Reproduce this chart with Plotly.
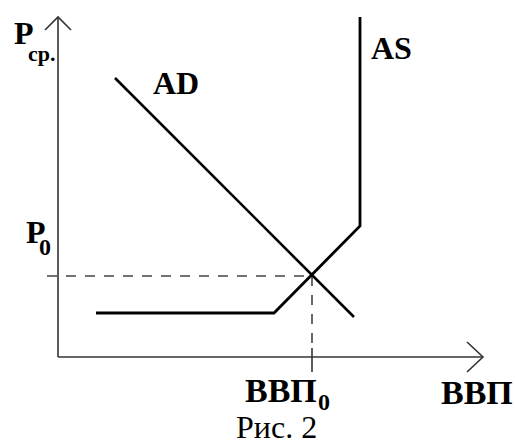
import plotly.graph_objects as go

# Economic model data (units: relative to the axis origin, P upward, GDP rightward)
ad_q = [57, 296]
ad_p = [279, 40]
as_q = [38, 216, 302, 302]
as_p = [44, 44, 131, 340]
eq_q = 254
eq_p = 81

axis_len_q = 425
axis_len_p = 340

fig = go.Figure()

AX = dict(color="#333333", width=1.6)

# axes
fig.add_trace(go.Scatter(x=[0, 0], y=[0, axis_len_p], mode="lines", line=AX, hoverinfo="skip"))
fig.add_trace(go.Scatter(x=[0, axis_len_q], y=[0, 0], mode="lines", line=AX, hoverinfo="skip"))
# arrowheads
fig.add_trace(go.Scatter(x=[-13, 0, 13], y=[axis_len_p - 13, axis_len_p, axis_len_p - 13],
                         mode="lines", line=AX, hoverinfo="skip"))
fig.add_trace(go.Scatter(x=[axis_len_q - 16, axis_len_q, axis_len_q - 16], y=[15, 0, -15],
                         mode="lines", line=AX, hoverinfo="skip"))
# tick at ВВП0
fig.add_trace(go.Scatter(x=[eq_q, eq_q], y=[9, -15], mode="lines", line=AX, hoverinfo="skip"))

# dashed guides
DASH = dict(color="#444444", width=1.6, dash="10px,9px")
fig.add_trace(go.Scatter(x=[-11, eq_q], y=[eq_p, eq_p], mode="lines", line=DASH, hoverinfo="skip"))
fig.add_trace(go.Scatter(x=[eq_q, eq_q], y=[eq_p, 9], mode="lines", line=DASH, hoverinfo="skip"))

# AD and AS
fig.add_trace(go.Scatter(x=ad_q, y=ad_p, mode="lines", line=dict(color="black", width=2.6), hoverinfo="skip"))
fig.add_trace(go.Scatter(x=as_q, y=as_p, mode="lines", line=dict(color="black", width=2.8), hoverinfo="skip"))

SERIF = "Liberation Serif"

def lab(text, x, y, size, bold=True, xanchor="center", yanchor="middle"):
    t = f"<b>{text}</b>" if bold else text
    fig.add_annotation(x=x, y=y, text=t, showarrow=False, xanchor=xanchor, yanchor=yanchor,
                       font=dict(family=SERIF, size=size, color="black"))

lab("P", -34, 324, 32)
lab("ср.", -16, 304, 22)
lab("AD", 118, 274, 32)
lab("AS", 333, 309, 32)
lab("P", -22, 125, 32)
lab("0", -13, 110, 24)
lab("ВВП", 185, -33, 34, xanchor="left")
lab("0", 266, -45, 24)
lab("ВВП", 381, -35, 34, xanchor="left")
lab("Рис. 2", 218, -70, 32, bold=False)

fig.update_layout(
    width=515, height=444,
    margin=dict(l=0, r=0, t=0, b=0),
    paper_bgcolor="white", plot_bgcolor="white",
    showlegend=False,
    xaxis=dict(range=[-58, 457], visible=False, fixedrange=True),
    yaxis=dict(range=[-87, 357], visible=False, fixedrange=True),
)

fig.write_html("out.html", config={"displayModeBar": False},
               post_script="document.body.style.margin='0';document.body.style.overflow='hidden';")
